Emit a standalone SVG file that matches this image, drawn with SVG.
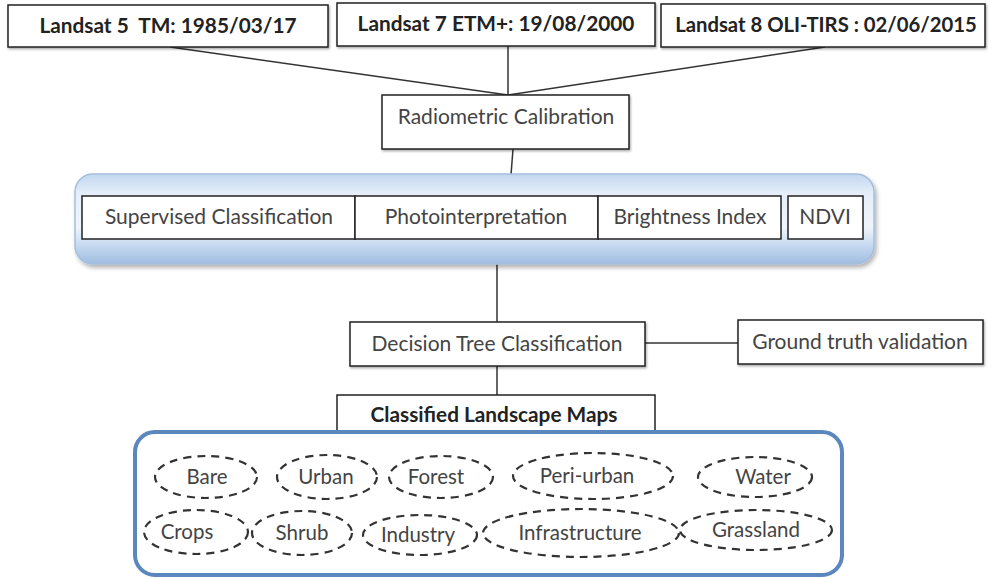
<svg xmlns="http://www.w3.org/2000/svg" width="993" height="579" viewBox="0 0 993 579">
<defs>
<linearGradient id="pg" x1="0" y1="0" x2="0" y2="1">
<stop offset="0" stop-color="#c2d7f0"/>
<stop offset="0.22" stop-color="#e6eff9"/>
<stop offset="0.6" stop-color="#eef4fb"/>
<stop offset="0.8" stop-color="#c4d8ef"/>
<stop offset="1" stop-color="#9fbde1"/>
</linearGradient>
<filter id="sh" x="-5%" y="-10%" width="110%" height="130%">
<feDropShadow dx="2" dy="3" stdDeviation="2" flood-color="#000" flood-opacity="0.3"/>
</filter>
<filter id="bs" x="-5%" y="-10%" width="110%" height="130%">
<feDropShadow dx="1" dy="1.5" stdDeviation="0.8" flood-color="#000" flood-opacity="0.35"/>
</filter>
</defs>
<style>
.box{fill:#fff;stroke:#222;stroke-width:1.5;}
.t{font-family:Lato,"Liberation Sans",sans-serif;font-size:21px;fill:#444;text-anchor:middle;}
.b{font-family:Lato,"Liberation Sans",sans-serif;font-size:20.8px;font-weight:bold;fill:#222;text-anchor:middle;}
.el{fill:none;stroke:#333;stroke-width:2.2;stroke-dasharray:8 6;}
.et{font-family:Lato,"Liberation Sans",sans-serif;font-size:20.5px;fill:#444;text-anchor:middle;}
.ln{stroke:#333;stroke-width:1.5;fill:none;}
</style>
<rect width="993" height="579" fill="#fff"/>
<g id="connectors">
<line class="ln" x1="170" y1="47" x2="508" y2="95"/>
<line class="ln" x1="508" y1="46" x2="508" y2="95"/>
<line class="ln" x1="825" y1="47" x2="508" y2="95"/>
<line class="ln" x1="513" y1="149" x2="511" y2="175"/>
<line class="ln" x1="497" y1="264" x2="497" y2="322"/>
<line class="ln" x1="645" y1="343" x2="738" y2="343"/>
<line class="ln" x1="497" y1="366" x2="497" y2="395"/>
</g>
<g id="landsat5">
<rect class="box" x="8" y="5" width="320" height="42" filter="url(#bs)"/>
<text class="b" x="168" y="33" xml:space="preserve">Landsat 5  TM: 1985/03/17</text>
</g>
<g id="landsat7">
<rect class="box" x="337" y="3" width="318" height="43" filter="url(#bs)"/>
<text class="b" x="496" y="31">Landsat 7 ETM+: 19/08/2000</text>
</g>
<g id="landsat8">
<rect class="box" x="661" y="4" width="324" height="43" filter="url(#bs)"/>
<text class="b" x="826" y="32" style="font-size:20.3px">Landsat 8 OLI-TIRS : 02/06/2015</text>
</g>
<g id="radiometric">
<rect class="box" x="382" y="95" width="247" height="54" filter="url(#bs)"/>
<text class="t" x="506" y="124">Radiometric Calibration</text>
</g>
<g id="panel">
<rect x="75" y="174" width="799" height="90" rx="18" fill="url(#pg)" stroke="#a5bedd" stroke-width="1.5" filter="url(#sh)"/>
<g id="supervised">
<rect class="box" x="82" y="196" width="273" height="43"/>
<text class="t" x="219" y="224">Supervised Classification</text>
</g>
<g id="photo">
<rect class="box" x="355" y="196" width="243" height="43"/>
<text class="t" x="476" y="224">Photointerpretation</text>
</g>
<g id="brightness">
<rect class="box" x="598" y="196" width="183" height="43"/>
<text class="t" x="690" y="224">Brightness Index</text>
</g>
<g id="ndvi">
<rect class="box" x="788" y="196" width="75" height="43"/>
<text class="t" x="825" y="224">NDVI</text>
</g>
</g>
<g id="decision">
<rect class="box" x="350" y="322" width="295" height="44" filter="url(#bs)"/>
<text class="t" x="497" y="351">Decision Tree Classification</text>
</g>
<g id="ground">
<rect class="box" x="738" y="320" width="245" height="44" filter="url(#bs)"/>
<text class="t" x="860" y="349">Ground truth validation</text>
</g>
<g id="classified-label">
<rect class="box" x="337" y="395" width="318" height="37"/>
<text class="b" x="494" y="422">Classified Landscape Maps</text>
</g>
<g id="classified-frame">
<rect x="135" y="432" width="707" height="143" rx="20" fill="#fff" stroke="#5a87bd" stroke-width="4"/>
</g>
<g id="bare"><ellipse class="el" cx="206" cy="477" rx="51" ry="21"/><text class="et" x="207" y="484">Bare</text></g>
<g id="urban"><ellipse class="el" cx="327" cy="477" rx="50" ry="22"/><text class="et" x="326" y="484">Urban</text></g>
<g id="forest"><ellipse class="el" cx="441" cy="477" rx="52" ry="21"/><text class="et" x="436" y="484">Forest</text></g>
<g id="periurban"><ellipse class="el" cx="593" cy="476" rx="80" ry="23"/><text class="et" x="587" y="483">Peri-urban</text></g>
<g id="water"><ellipse class="el" cx="755" cy="477" rx="57" ry="20"/><text class="et" x="763" y="484">Water</text></g>
<g id="crops"><ellipse class="el" cx="196" cy="532" rx="52" ry="22"/><text class="et" x="187" y="539">Crops</text></g>
<g id="shrub"><ellipse class="el" cx="302" cy="533" rx="50" ry="22"/><text class="et" x="302" y="540">Shrub</text></g>
<g id="industry"><ellipse class="el" cx="420" cy="535" rx="57" ry="20"/><text class="et" x="418" y="542">Industry</text></g>
<g id="infrastructure"><ellipse class="el" cx="581" cy="533" rx="98" ry="24"/><text class="et" x="580" y="540">Infrastructure</text></g>
<g id="grassland"><ellipse class="el" cx="756" cy="530" rx="76" ry="20"/><text class="et" x="756" y="537">Grassland</text></g>
</svg>
